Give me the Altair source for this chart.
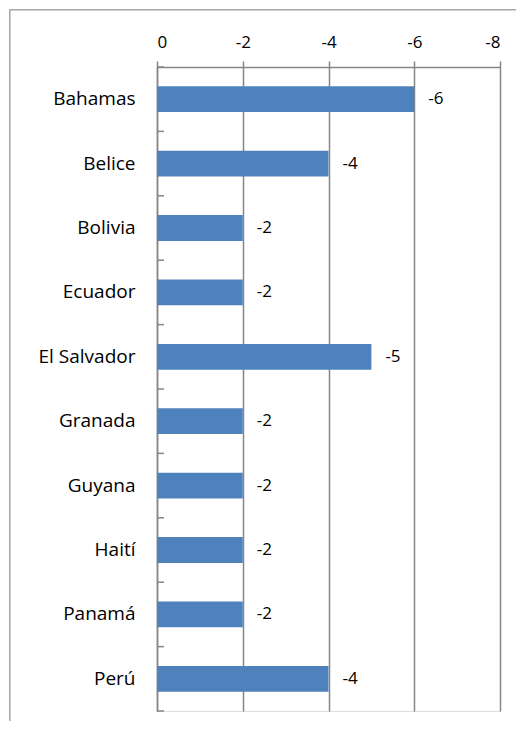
import altair as alt
import pandas as pd

countries = ["Bahamas", "Belice", "Bolivia", "Ecuador", "El Salvador",
             "Granada", "Guyana", "Haití", "Panamá", "Perú"]
values = [-6, -4, -2, -2, -5, -2, -2, -2, -2, -4]
x_ticks = [0, -2, -4, -6, -8]

df = pd.DataFrame({"country": countries, "value": values})
df["label"] = df["value"].astype(str)

W, H = 343, 644
FONT = "Open Sans"
GRID = "#868686"

yscale = alt.Scale(domain=countries, paddingInner=0.6, paddingOuter=0.3)
xscale = alt.Scale(domain=[0, -8])

bars = alt.Chart(df).mark_bar(color="#4F81BD").encode(
    y=alt.Y("country:N", scale=yscale, sort=countries, title=None,
            axis=alt.Axis(ticks=False, labelPadding=22, labelFontSize=19,
                          labelFont=FONT, labelColor="#000000",
                          labelFontWeight="normal",
                          domainColor=GRID, domainWidth=1.5, grid=False)),
    x=alt.X("value:Q", scale=xscale, title=None,
            axis=alt.Axis(orient="top", values=x_ticks,
                          labelExpr="'' + datum.value",
                          tickSize=6, tickColor=GRID, tickWidth=1.5,
                          domainColor=GRID, domainWidth=1.5,
                          grid=True, gridColor=GRID, gridWidth=1.5, gridOpacity=1,
                          labelPadding=10, labelFontSize=17, labelFont=FONT,
                          labelFontWeight="normal",
                          labelColor="#000000")),
    x2=alt.datum(0),
)

texts = alt.Chart(df).mark_text(align="left", baseline="middle", dx=14,
                                fontSize=17, font=FONT, color="#000000").encode(
    y=alt.Y("country:N", scale=yscale, sort=countries, axis=None),
    x=alt.X("value:Q", scale=xscale),
    text="label:N",
)

ticks = alt.Chart(df).mark_rule(color=GRID, strokeWidth=1.5).encode(
    y=alt.Y("country:N", sort=countries, bandPosition=0,
            scale=alt.Scale(domain=countries, paddingInner=0, paddingOuter=0),
            axis=None),
    x=alt.value(0),
    x2=alt.value(7),
)

bottom_tick = alt.Chart(df.head(1)).mark_rule(color=GRID, strokeWidth=1.5).encode(
    y=alt.value(H), x=alt.value(0), x2=alt.value(7),
)

border_top = alt.Chart(df.head(1)).mark_rect(color="#A6A6A6", clip=False).encode(
    x=alt.value(-148), x2=alt.value(W + 16),
    y=alt.value(-58), y2=alt.value(-56.5),
)
border_left = alt.Chart(df.head(1)).mark_rect(color="#A6A6A6", clip=False).encode(
    x=alt.value(-148), x2=alt.value(-146.5),
    y=alt.value(-58), y2=alt.value(H + 10),
)

chart = alt.layer(bars, texts, ticks, bottom_tick, border_top, border_left).resolve_scale(
    y="independent"
).properties(
    width=W, height=H,
    autosize=alt.AutoSizeParams(type="none"),
    padding={"left": 149, "top": 59, "right": 16, "bottom": 10},
).configure_view(stroke=None).configure(background="white")

chart.save("out.html", embed_options={"renderer": "svg", "actions": False})
